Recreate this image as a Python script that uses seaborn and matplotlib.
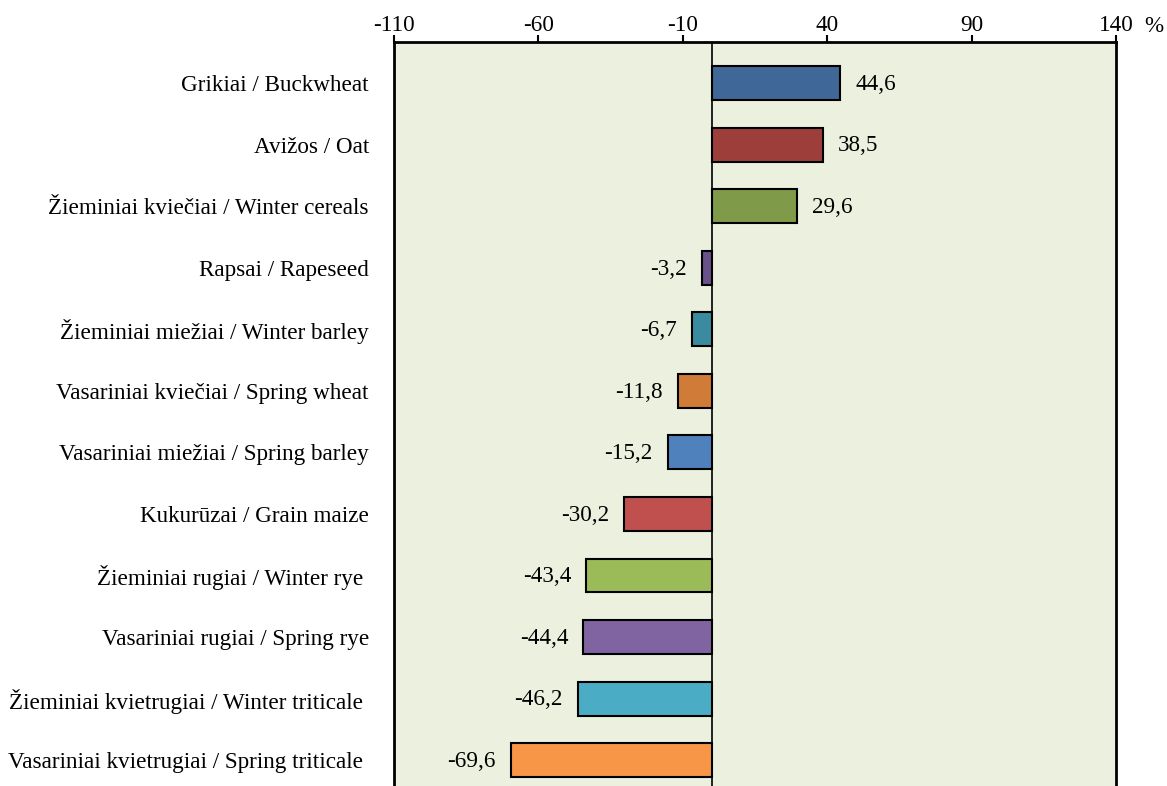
import seaborn as sns
import matplotlib.pyplot as plt
import pandas as pd

# crop names (LT / EN) and change in %
crops = ["Grikiai / Buckwheat", "Avižos / Oat", "Žieminiai kviečiai / Winter cereals",
         "Rapsai / Rapeseed", "Žieminiai miežiai / Winter barley",
         "Vasariniai kviečiai / Spring wheat", "Vasariniai miežiai / Spring barley",
         "Kukurūzai / Grain maize", "Žieminiai rugiai / Winter rye ",
         "Vasariniai rugiai / Spring rye", "Žieminiai kvietrugiai / Winter triticale ",
         "Vasariniai kvietrugiai / Spring triticale "]
change = [44.6, 38.5, 29.6, -3.2, -6.7, -11.8, -15.2, -30.2, -43.4, -44.4, -46.2, -69.6]
bar_colors = ["#3F6899", "#9E3E3B", "#7F9A48", "#69518B", "#3A8BA0", "#D07B38",
              "#4F81BD", "#C0504D", "#9BBB59", "#8064A2", "#4BACC6", "#F79646"]
xticks = [-110, -60, -10, 40, 90, 140]

df = pd.DataFrame({"crop": crops, "change": change})

sns.set_style("white")
plt.rcParams['font.family'] = ['Liberation Serif', 'DejaVu Serif']
plt.rcParams['text.color'] = 'black'
fs = 16.7

fig = plt.figure(figsize=(11.67, 7.86), dpi=100)
ax = fig.add_axes([394 / 1167, 0.0, (1116 - 394) / 1167, 1 - 42 / 786])
ax.set_facecolor("#EBF1DE")

sns.barplot(data=df, y="crop", x="change", hue="crop", palette=bar_colors,
            orient="h", width=0.55, edgecolor="black", linewidth=1.5,
            saturation=1, legend=False, ax=ax)

ax.axvline(0, color="black", lw=1.2, zorder=3)
ax.set_xlim(-110, 140)
ax.set_ylim(11.42, -0.667)
ax.set_xticks(xticks)
ax.set_xticklabels([str(t) for t in xticks])
ax.xaxis.tick_top()
ax.tick_params(axis="x", direction="out", length=5, width=1.5, pad=-1,
               labelsize=fs, top=True, bottom=False, colors="black")
ax.tick_params(axis="y", length=0, pad=18, labelsize=fs, colors="black")
ax.set_xlabel("")
ax.set_ylabel("")
for s in ["top", "left", "right"]:
    ax.spines[s].set_linewidth(2)
    ax.spines[s].set_color("black")
ax.spines["bottom"].set_visible(False)

for i, v in enumerate(change):
    lbl = ("%.1f" % v).replace(".", ",")
    if v >= 0:
        ax.annotate(lbl, (v, i), xytext=(11, -1), textcoords="offset points",
                    ha="left", va="center", fontsize=fs)
    else:
        ax.annotate(lbl, (v, i), xytext=(-11, -1), textcoords="offset points",
                    ha="right", va="center", fontsize=fs)

fig.text(1154 / 1167, 1 - 27 / 786, "%", ha="center", va="center", fontsize=fs)

plt.savefig("out.png", dpi=100)
